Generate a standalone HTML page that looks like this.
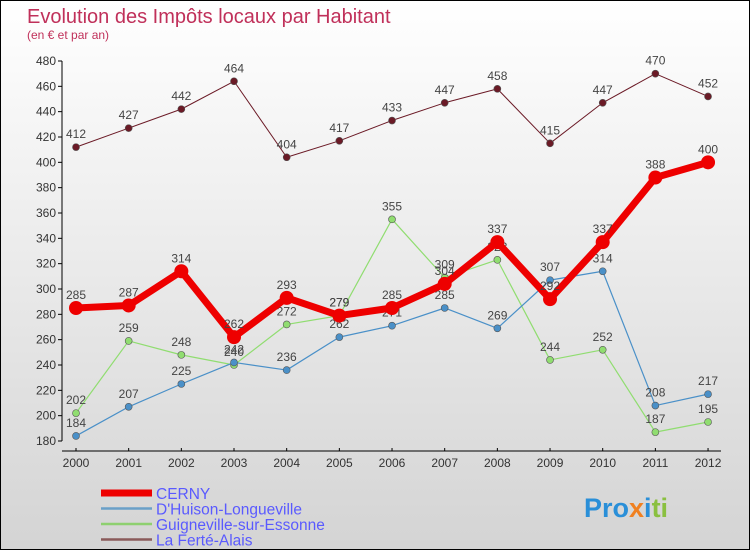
<!DOCTYPE html>
<html><head><meta charset="utf-8"><style>
body{margin:0;}
#w{width:748px;height:548px;border:1px solid #000;background:linear-gradient(#fff,#d4d4d4);position:relative;overflow:hidden;font-family:"Liberation Sans",sans-serif;}
svg text{font-family:"Liberation Sans",sans-serif;}
</style></head><body>
<div id="w">
<svg width="748" height="548" id="c">
<text x="26" y="22" font-size="20" fill="#c0305a">Evolution des Impôts locaux par Habitant</text>
<text x="26" y="38" font-size="12" fill="#c0305a">(en € et par an)</text>
<g id="axes"></g><g id="series"></g><g id="legend"></g>
<text x="583" y="516" font-size="27" font-weight="bold"><tspan fill="#2a8fd8">Pro</tspan><tspan fill="#f08020">x</tspan><tspan fill="#2a8fd8">i</tspan><tspan fill="#8ac040">ti</tspan></text>
</svg></div>
<script>
const years=[2000,2001,2002,2003,2004,2005,2006,2007,2008,2009,2010,2011,2012];
const yTicks=[180,200,220,240,260,280,300,320,340,360,380,400,420,440,460,480];
const cerny=[285,287,314,262,293,279,285,304,337,292,337,388,400];
const huison=[184,207,225,242,236,262,271,285,269,307,314,208,217];
const guign=[202,259,248,240,272,279,355,309,323,244,252,187,195];
const ferte=[412,427,442,464,404,417,433,447,458,415,447,470,452];
const NS='http://www.w3.org/2000/svg';
const X=i=>75+i*52.67, Y=v=>440-(v-180)*1.2667;
function mk(t,a,p){const e=document.createElementNS(NS,t);for(const k in a)e.setAttribute(k,a[k]);p.appendChild(e);return e;}
const ax=document.getElementById('axes');
let l=mk('line',{x1:61,y1:Y(480),x2:61,y2:Y(180),stroke:'#000'},ax);


l=mk('line',{x1:61,y1:450,x2:720,y2:450,stroke:'#000'},ax);


yTicks.forEach(v=>{mk('line',{x1:57,y1:Y(v),x2:61,y2:Y(v),stroke:'#000'},ax);
 const t=mk('text',{x:55,y:Y(v)+4,'font-size':12,fill:'#333','text-anchor':'end'},ax);t.textContent=v;
 
 });
years.forEach((y,i)=>{mk('line',{x1:X(i),y1:447,x2:X(i),y2:450,stroke:'#000'},ax);
 const t=mk('text',{x:X(i),y:466,'font-size':12,fill:'#333','text-anchor':'middle'},ax);t.textContent=y;
 
 });
const S=[[ferte,'#6b1a26',1,3.5,'la-ferte-alais','#8a5a5a'],[guign,'#90dd70',1.2,3.5,'guigneville-sur-essonne','#8ed070'],[huison,'#4a90c8',1.2,3.5,'d-huison-longueville','#6aa0c8'],[cerny,'#ee0000',7,7,'cerny','#ee0000']];
const names={'cerny':'CERNY','d-huison-longueville':"D'Huison-Longueville",'guigneville-sur-essonne':'Guigneville-sur-Essonne','la-ferte-alais':'La Ferté-Alais'};
const sg=document.getElementById('series');
S.forEach(([d,c,w,r,n])=>{const g=mk('g',{},sg);
 
 
 const p=mk('polyline',{points:d.map((v,i)=>X(i)+','+Y(v)).join(' '),fill:'none',stroke:c,'stroke-width':w,'stroke-linejoin':'round'},g);
 
 
 d.forEach((v,i)=>{const ci=mk('circle',{cx:X(i),cy:Y(v),r:r,fill:c,stroke:w>2?'none':'#555','stroke-width':0.6},g);
  
  
  const t=mk('text',{x:X(i),y:Y(v)-9,'font-size':12,fill:'#444','text-anchor':'middle'},g);t.textContent=v;
  
  });});
const lg=document.getElementById('legend');
['cerny','d-huison-longueville','guigneville-sur-essonne','la-ferte-alais'].forEach((n,i)=>{
 const s=S.find(z=>z[4]==n);const y=492+i*15.5;
 const ln=mk('line',{x1:100,y1:y,x2:151,y2:y,stroke:s[5],'stroke-width':n=='cerny'?7:2.5},lg);
 
 
 const t=mk('text',{x:155,y:y+6,'font-size':15.5,fill:'#5a5aff'},lg);t.textContent=names[n];
 
 });
</script>
</body></html>
